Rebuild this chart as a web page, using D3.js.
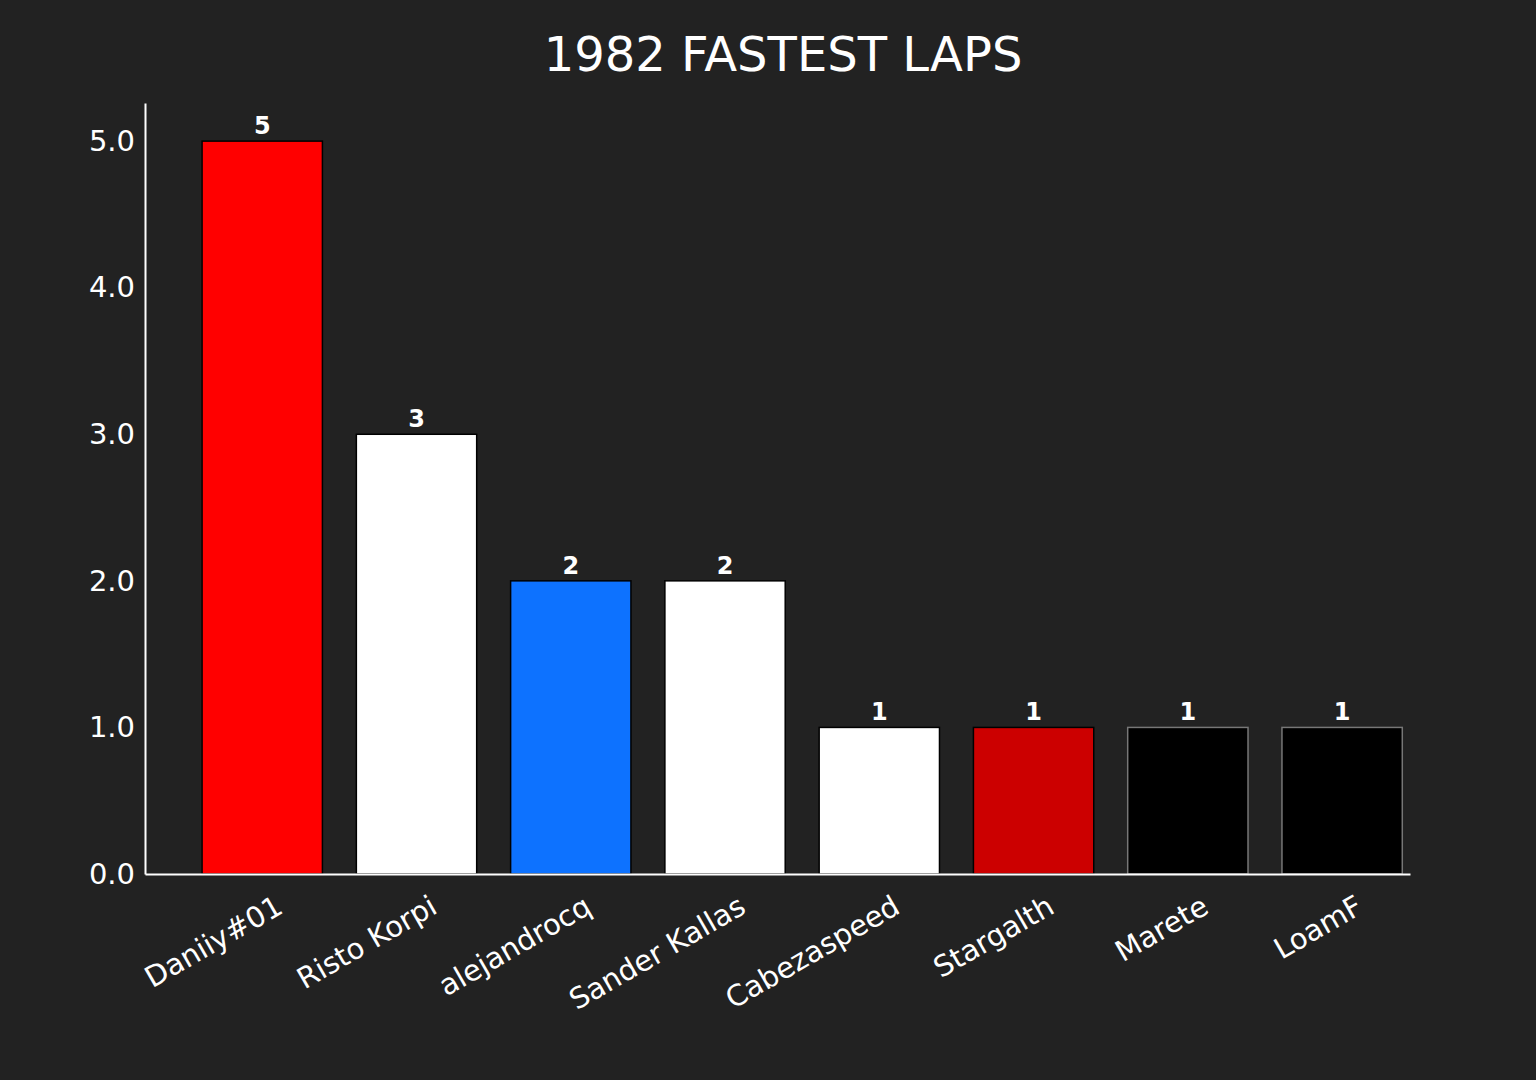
<!DOCTYPE html>
<html><head><meta charset="utf-8">
<script src="https://cdn.jsdelivr.net/npm/d3@7"></script>
<style>body{margin:0;background:#222222;}text{font-family:"DejaVu Sans",sans-serif;}</style>
</head><body><div id="chart"></div>
<script>
const drivers = ['Daniiy#01','Risto Korpi','alejandrocq','Sander Kallas','Cabezaspeed','Stargalth','Marete','LoamF'];
const laps = [5,3,2,2,1,1,1,1];
const colors = ['#ff0000','#ffffff','#0d72ff','#ffffff','#ffffff','#cc0000','#000000','#000000'];

const width = 1536, height = 1080;
const svg = d3.select('#chart').append('svg').attr('width', width).attr('height', height);
svg.append('rect').attr('width', width).attr('height', height).attr('fill', '#222222');

const x = d3.scaleLinear().domain([-0.76, 7.44]).range([145, 1410]);
const y = d3.scaleLinear().domain([0, 5.26]).range([874, 103]);
const bw = 0.78;

svg.append('text').attr('x', 783).attr('y', 71).attr('text-anchor', 'middle')
  .attr('fill', '#fff').style('font-size', '48px').text('1982 FASTEST LAPS');

svg.selectAll('rect.bar').data(laps).join('rect').attr('class', 'bar')
  .attr('x', (d, i) => x(i - bw / 2)).attr('width', x(bw) - x(0))
  .attr('y', d => y(d)).attr('height', d => y(0) - y(d))
  .attr('fill', (d, i) => colors[i]).attr('stroke', (d, i) => i >= 6 ? '#777' : '#000').attr('stroke-width', 1.5);

svg.selectAll('text.val').data(laps).join('text').attr('class', 'val')
  .attr('x', (d, i) => x(i)).attr('y', d => y(d) - 7).attr('text-anchor', 'middle')
  .attr('fill', '#fff').style('font-size', '24px').style('font-weight', 'bold').text(d => d);

const ya = svg.append('g').attr('transform', 'translate(145,0)')
  .call(d3.axisLeft(y).tickValues([0,1,2,3,4,5]).tickSize(0).tickPadding(10));
ya.select('.domain').attr('stroke', '#fff').attr('stroke-width', 2);
ya.selectAll('text').attr('fill', '#fff').style('font-size', '29px');

const xa = svg.append('g').attr('transform', 'translate(0,874)')
  .call(d3.axisBottom(x).tickValues(d3.range(drivers.length)).tickFormat(i => drivers[i]).tickSize(0));
xa.select('.domain').attr('stroke', '#fff').attr('stroke-width', 2);
xa.selectAll('text').attr('fill', '#fff').style('font-size', '29px')
  .attr('text-anchor', 'end').attr('dy', null).attr('y', 0)
  .attr('transform', 'translate(22,38) rotate(-30)');
</script></body></html>
